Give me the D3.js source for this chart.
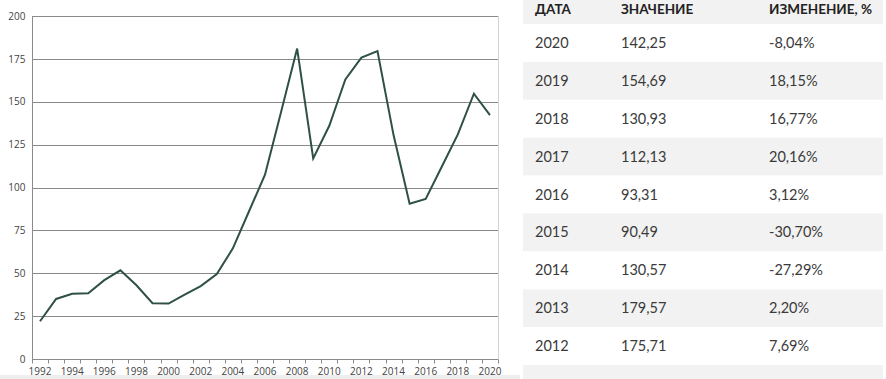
<!DOCTYPE html>
<html><head><meta charset="utf-8">
<script src="https://cdn.jsdelivr.net/npm/d3@7"></script>
<style>
html,body{margin:0;padding:0;background:#fff;}
svg{display:block;}
</style></head>
<body>
<svg id="c" width="886" height="379"></svg>
<script>
const years = d3.range(1992, 2021);
const values = [22, 35, 38, 38.3, 46, 51.7, 43, 32.5, 32.3, 37.5, 42.5, 49.5, 64.5, 86, 107.5, 144, 181, 117, 136, 163, 175.71, 179.57, 130.57, 90.49, 93.31, 112.13, 130.93, 154.69, 142.25];
const yTicks = [0, 25, 50, 75, 100, 125, 150, 175, 200];
const xLabelYears = d3.range(1992, 2021, 2);

const tableHeaders = ["ДАТА", "ЗНАЧЕНИЕ", "ИЗМЕНЕНИЕ, %"];
const tableDates = ["2020", "2019", "2018", "2017", "2016", "2015", "2014", "2013", "2012"];
const tableValues = ["142,25", "154,69", "130,93", "112,13", "93,31", "90,49", "130,57", "179,57", "175,71"];
const tableChanges = ["-8,04%", "18,15%", "16,77%", "20,16%", "3,12%", "-30,70%", "-27,29%", "2,20%", "7,69%"];

const svg = d3.select("#c");
const L = 32, R = 498, T = 16, B = 359;

const x = d3.scaleBand().domain(years).range([L, R]).padding(0);
const y = d3.scaleLinear().domain([0, 200]).range([B, T]);

// bottom strip
svg.append("rect").attr("x", 0).attr("y", 375).attr("width", 520).attr("height", 4).attr("fill", "#eeeeee");

// gridlines
svg.append("g").selectAll("line").data(yTicks.filter(d => d > 0)).join("line")
  .attr("x1", L).attr("x2", R)
  .attr("y1", d => Math.round(y(d)) + 0.5).attr("y2", d => Math.round(y(d)) + 0.5)
  .attr("stroke", "#8a8a8a").attr("stroke-width", 1);

// right border
svg.append("line").attr("x1", R + 0.5).attr("x2", R + 0.5).attr("y1", T).attr("y2", B + 3)
  .attr("stroke", "#d4d4d4");

// y axis
const yAxis = d3.axisLeft(y).tickValues(yTicks).tickSize(0).tickPadding(7);
const gy = svg.append("g").attr("transform", `translate(${L + 0.5},0)`).call(yAxis);
gy.select(".domain").remove();
gy.selectAll("text").attr("font-family", "'Open Sans', sans-serif").attr("font-size", 10).attr("fill", "#444");
svg.append("line").attr("x1", L + 0.5).attr("x2", L + 0.5).attr("y1", T).attr("y2", B + 2).attr("stroke", "#8a8a8a");

// x axis
const gx = svg.append("g").attr("transform", `translate(0,${Math.round(B) + 0.5})`);
gx.append("line").attr("x1", L).attr("x2", R).attr("stroke", "#8a8a8a");
const bounds = years.map(d => x(d)).concat([R]);
gx.selectAll("line.tick").data(bounds).join("line").attr("class", "tick")
  .attr("x1", d => Math.round(d) + 0.5).attr("x2", d => Math.round(d) + 0.5)
  .attr("y1", 0).attr("y2", 4).attr("stroke", "#8a8a8a");
gx.selectAll("text").data(xLabelYears).join("text")
  .attr("x", d => x(d) + x.bandwidth() / 2).attr("y", 15)
  .attr("text-anchor", "middle")
  .attr("font-family", "'Open Sans', sans-serif").attr("font-size", 10).attr("fill", "#444")
  .text(d => d);

// line
const line = d3.line().x((d, i) => x(years[i]) + x.bandwidth() / 2).y(d => y(d));
svg.append("path").datum(values).attr("d", line)
  .attr("fill", "none").attr("stroke", "#2f5045").attr("stroke-width", 2)
  .attr("stroke-linejoin", "miter");

// table
const tx = 523, tw = 360, headH = 24, rowH = 37.9;
const colX = [535, 621, 769];
const tg = svg.append("g");
tg.append("rect").attr("x", tx).attr("y", 0).attr("width", tw).attr("height", headH).attr("fill", "#f2f2f2");
tg.selectAll("text.h").data(tableHeaders).join("text").attr("class", "h")
  .attr("x", (d, i) => colX[i]).attr("y", 14)
  .attr("font-family", "Lato, 'Open Sans', sans-serif").attr("font-weight", "bold")
  .attr("font-size", 13.5).attr("fill", "#222").text(d => d);

const rows = tableDates.map((d, i) => [d, tableValues[i], tableChanges[i]]);
rows.push(null);
const rg = tg.selectAll("g.r").data(rows).join("g").attr("class", "r")
  .attr("transform", (d, i) => `translate(0,${headH + i * rowH})`);
rg.append("rect").attr("x", tx).attr("y", 0).attr("width", tw).attr("height", rowH)
  .attr("fill", (d, i) => i % 2 === 1 ? "#f2f2f2" : "#ffffff");
rg.filter(d => d).selectAll("text").data(d => d).join("text")
  .attr("x", (d, i) => colX[i]).attr("y", rowH / 2 + 5)
  .attr("font-family", "Lato, 'Open Sans', sans-serif")
  .attr("font-size", 14.5).attr("fill", "#3a3a3a").text(d => d);
</script>
</body></html>
